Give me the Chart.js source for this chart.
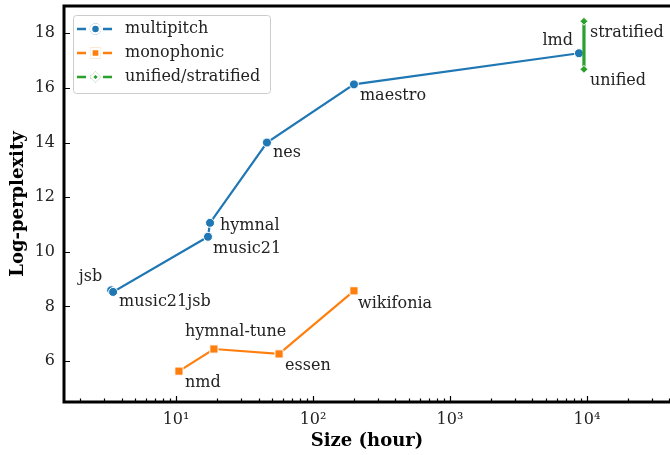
<!DOCTYPE html>
<html>
<head>
<meta charset="utf-8">
<script src="https://cdn.jsdelivr.net/npm/chart.js@4.4.1/dist/chart.umd.min.js"></script>
<style>
  html, body { margin: 0; padding: 0; background: #ffffff; overflow: hidden; }
  #wrap { width: 670px; height: 455px; }
</style>
</head>
<body>
<div id="wrap"><canvas id="chart" width="670" height="455"></canvas></div>
<script>
// data
const seriesNames = ['multipitch', 'monophonic', 'unified/stratified'];

const namesMultipitch = ['jsb', 'music21jsb', 'music21', 'hymnal', 'nes', 'maestro', 'lmd'];
const sizeMultipitch = [3.36, 3.47, 17.1, 17.7, 46.1, 199, 8740];
const perplexityMultipitch = [8.59, 8.53, 10.55, 11.06, 14.0, 16.13, 17.27];

const namesMonophonic = ['nmd', 'hymnal-tune', 'essen', 'wikifonia'];
const sizeMonophonic = [10.5, 18.9, 56.5, 199];
const perplexityMonophonic = [5.63, 6.44, 6.26, 8.57];

const namesUnified = ['unified', 'stratified'];
const sizeUnified = [9510, 9510];
const perplexityUnified = [16.68, 18.44];

const xTickValues = [10, 100, 1000, 10000];
const yTickValues = [6, 8, 10, 12, 14, 16, 18];

const FONT = "'DejaVu Serif', serif";
const colors = { blue: '#1f77b4', orange: '#ff7f0e', green: '#2ca02c' };

const toPoints = (xs, ys) => xs.map((x, i) => ({ x, y: ys[i] }));
const supers = { '1': '\u00b9', '2': '\u00b2', '3': '\u00b3', '4': '\u2074' };

// where each annotation sits relative to its marker
const labelOffsets = {
    'jsb': [-9, -9, 'right'],
    'music21jsb': [6, 14, 'left'],
    'music21': [5, 16, 'left'],
    'hymnal': [10, 7, 'left'],
    'nes': [6, 14, 'left'],
    'maestro': [6, 16, 'left'],
    'lmd': [-6, -8, 'right'],
    'stratified': [6, 16, 'left'],
    'unified': [6, 16, 'left'],
    'nmd': [6, 16, 'left'],
    'hymnal-tune': [-29, -13, 'left'],
    'essen': [6, 16, 'left'],
    'wikifonia': [4, 17, 'left']
};

const annotatePlugin = {
    id: 'annotate',
    afterDatasetsDraw(chart) {
        const ctx = chart.ctx;
        ctx.save();
        ctx.font = '16px ' + FONT;
        ctx.fillStyle = '#222222';
        ctx.textBaseline = 'alphabetic';
        chart.data.datasets.forEach((ds, di) => {
            const meta = chart.getDatasetMeta(di);
            meta.data.forEach((pt, i) => {
                const name = ds.names[i];
                const off = labelOffsets[name] || [6, 16, 'left'];
                ctx.textAlign = off[2];
                ctx.fillText(name, pt.x + off[0], pt.y + off[1]);
            });
        });
        ctx.restore();
    }
};

const framePlugin = {
    id: 'frame',
    afterDraw(chart) {
        const ctx = chart.ctx;
        const { left, right, top, bottom } = chart.chartArea;
        const xs = chart.scales.x;
        const ys = chart.scales.y;
        ctx.save();

        // ticks pointing inward
        ctx.strokeStyle = '#000000';
        ctx.lineWidth = 1.2;
        ctx.beginPath();
        for (let e = 0; e <= 4; e++) {
            for (let m = 1; m <= 9; m++) {
                const v = m * Math.pow(10, e);
                if (v < xs.min || v > xs.max) continue;
                const px = Math.round(xs.getPixelForValue(v)) + 0.5;
                const len = m === 1 ? 6 : 3.5;
                ctx.moveTo(px, bottom);
                ctx.lineTo(px, bottom - len);
            }
        }
        yTickValues.forEach(v => {
            const py = Math.round(ys.getPixelForValue(v)) + 0.5;
            ctx.moveTo(left, py);
            ctx.lineTo(left + 6, py);
        });
        ctx.stroke();

        // spines, the right one is cut off by the window
        ctx.lineWidth = 3;
        ctx.lineCap = 'square';
        ctx.beginPath();
        ctx.moveTo(right + 4, top);
        ctx.lineTo(left, top);
        ctx.lineTo(left, bottom);
        ctx.lineTo(right + 4, bottom);
        ctx.stroke();

        // axis titles
        ctx.fillStyle = '#000000';
        ctx.font = 'bold 18px ' + FONT;
        ctx.textAlign = 'center';
        ctx.textBaseline = 'middle';
        ctx.fillText('Size (hour)', 367, 441);
        ctx.translate(18, (top + bottom) / 2);
        ctx.rotate(-Math.PI / 2);
        ctx.fillText('Log-perplexity', 0, 0);
        ctx.restore();

        // legend
        ctx.save();
        const bx = 73, by = 15, bw = 197, bh = 78;
        ctx.fillStyle = 'rgba(255,255,255,0.8)';
        ctx.strokeStyle = '#cccccc';
        ctx.lineWidth = 1;
        ctx.beginPath();
        ctx.roundRect(bx + 0.5, by + 0.5, bw, bh, 3);
        ctx.fill();
        ctx.stroke();
        ctx.font = '16px ' + FONT;
        ctx.textAlign = 'left';
        ctx.textBaseline = 'middle';
        chart.data.datasets.forEach((ds, i) => {
            const cy = 29 + i * 24;
            ctx.strokeStyle = ds.borderColor;
            ctx.lineWidth = 2.5;
            ctx.setLineDash([9, 4]);
            ctx.beginPath();
            ctx.moveTo(77, cy);
            ctx.lineTo(114, cy);
            ctx.stroke();
            ctx.setLineDash([]);
            Chart.helpers.drawPoint(ctx, {
                pointStyle: ds.pointStyle,
                radius: ds.pointRadius,
                borderWidth: 1
            }, 95.5, cy);
            ctx.fillStyle = ds.backgroundColor;
            ctx.strokeStyle = '#ffffff';
            ctx.fill();
            ctx.stroke();
            ctx.fillStyle = '#222222';
            ctx.fillText(seriesNames[i], 125, cy);
        });
        ctx.restore();
    }
};

const makeDataset = (label, names, xs, ys, color, style, radius, width, order) => ({
    label,
    names,
    data: toPoints(xs, ys),
    showLine: true,
    borderColor: color,
    backgroundColor: color,
    borderWidth: width,
    pointStyle: style,
    pointRadius: radius,
    pointBorderColor: '#ffffff',
    pointBorderWidth: 1,
    pointBackgroundColor: color,
    order
});

new Chart(document.getElementById('chart'), {
    type: 'scatter',
    data: {
        datasets: [
            makeDataset(seriesNames[0], namesMultipitch, sizeMultipitch, perplexityMultipitch, colors.blue, 'circle', 4.5, 2.2, 3),
            makeDataset(seriesNames[1], namesMonophonic, sizeMonophonic, perplexityMonophonic, colors.orange, 'rect', 5.8, 2.2, 2),
            makeDataset(seriesNames[2], namesUnified, sizeUnified, perplexityUnified, colors.green, 'rectRot', 4, 3.2, 1)
        ]
    },
    options: {
        responsive: false,
        animation: false,
        layout: { autoPadding: false, padding: { top: 6, left: 0, right: 0, bottom: 0 } },
        plugins: {
            legend: { display: false },
            tooltip: { enabled: false }
        },
        scales: {
            x: {
                type: 'logarithmic',
                min: 1.52,
                max: 40400,
                grid: { display: false, drawTicks: false },
                border: { display: false },
                afterBuildTicks: scale => { scale.ticks = xTickValues.map(v => ({ value: v })); },
                afterFit: scale => {
                    scale.height = 53;
                    scale.paddingLeft = 0;
                    scale.paddingRight = 0;
                },
                ticks: {
                    autoSkip: false,
                    maxRotation: 0,
                    padding: 8,
                    color: '#222222',
                    font: { family: FONT, size: 16 },
                    callback: v => '10' + supers[String(Math.round(Math.log10(v)))]
                }
            },
            y: {
                min: 4.5,
                max: 19.0,
                grid: { display: false, drawTicks: false },
                border: { display: false },
                afterBuildTicks: scale => { scale.ticks = yTickValues.map(v => ({ value: v })); },
                afterFit: scale => {
                    scale.width = 64;
                    scale.paddingTop = 0;
                    scale.paddingBottom = 0;
                },
                ticks: {
                    padding: 9,
                    color: '#222222',
                    font: { family: FONT, size: 16 }
                }
            }
        }
    },
    plugins: [annotatePlugin, framePlugin]
});
</script>
</body>
</html>
